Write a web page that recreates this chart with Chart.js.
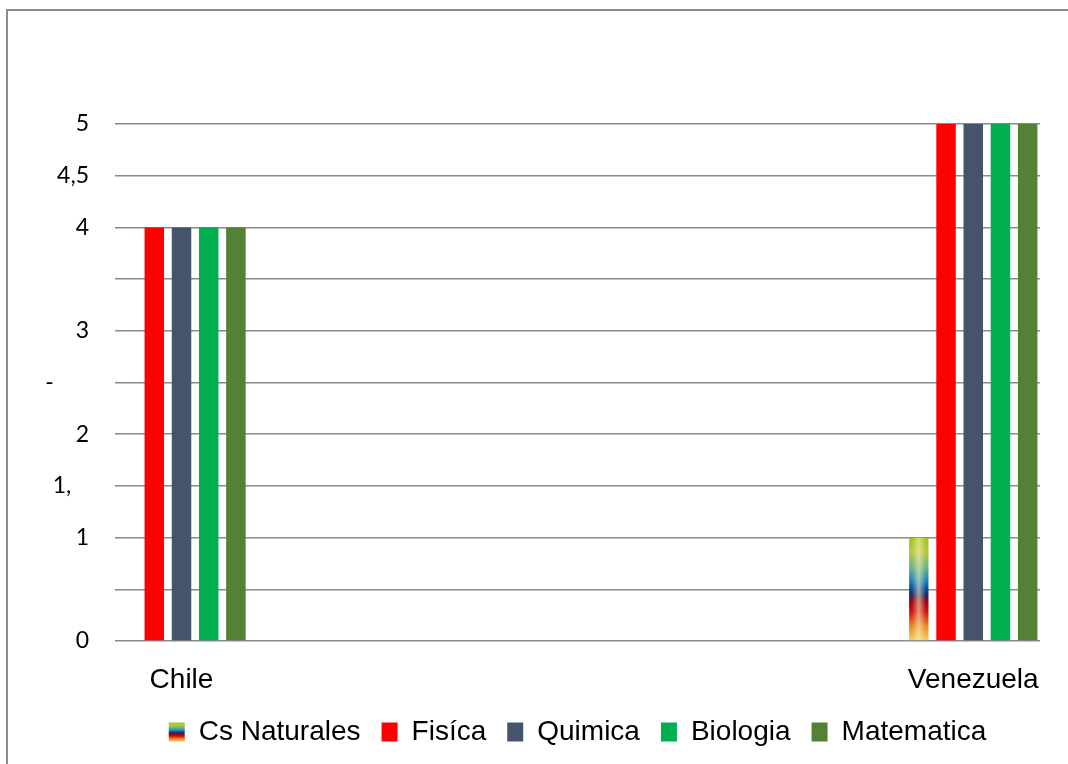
<!DOCTYPE html>
<html>
<head>
<meta charset="utf-8">
<script src="https://cdn.jsdelivr.net/npm/chart.js@4/dist/chart.umd.min.js"></script>
<style>
  html, body { margin: 0; padding: 0; background: #fff; overflow: hidden; }
  body { width: 1068px; height: 764px; position: relative; }
  #frame { position: absolute; left: 6px; top: 9px; width: 1100px; height: 800px;
           border-left: 2px solid #8c8c8c; border-top: 2px solid #8c8c8c; }
  #wrap { position: absolute; left: 0; top: 0; width: 1068px; height: 756px; }
</style>
</head>
<body>
<div id="frame"></div>
<div id="wrap"><canvas id="chart"></canvas></div>
<script>
const categories = ['Chile', 'Venezuela'];
const seriesNames = ['Cs Naturales', 'Fisíca', 'Quimica', 'Biologia', 'Matematica'];
const csNaturales = [0, 1];
const fisica = [4, 5];
const quimica = [4, 5];
const biologia = [4, 5];
const matematica = [4, 5];
const yTickLabels = ['0', '', '1', '1,   ', '2', '-      ', '3', '', '4', '4,5', '5'];

const CAT_PCT = 0.1718;
const BAR_PCT = 0.717;

// colour stops of the multicolour fill, top of bar first
const rainbowStops = [
  [0.00, '#a4c01c'], [0.14, '#b6ca3c'], [0.30, '#62b08c'], [0.42, '#1a86c0'],
  [0.50, '#0a4898'], [0.56, '#1c2a68'], [0.62, '#a0000e'], [0.72, '#d01010'],
  [0.86, '#e88a22'], [1.00, '#f2d060']
];

function rainbowPattern(ctx) {
  const chart = ctx.chart;
  const xs = chart.scales.x, ys = chart.scales.y;
  if (ctx.type !== 'data' || !xs || !ys) return '#1a86c0';
  const v = ctx.raw && ctx.raw.y;
  if (!v) return '#1a86c0';
  const step = Math.abs(xs.getPixelForValue(1) - xs.getPixelForValue(0));
  const size = step * CAT_PCT;
  const chunk = size / chart.data.datasets.length;
  const w = Math.max(1, Math.round(chunk * BAR_PCT));
  const center = xs.getPixelForValue(ctx.dataIndex) - size / 2 + chunk * (ctx.datasetIndex + 0.5);
  const top = ys.getPixelForValue(v), bottom = ys.getPixelForValue(0);
  const h = Math.max(1, Math.round(bottom - top));
  const c = document.createElement('canvas');
  c.width = w; c.height = h;
  const g = c.getContext('2d');
  const vg = g.createLinearGradient(0, 0, 0, h);
  rainbowStops.forEach(([o, col]) => vg.addColorStop(o, col));
  g.fillStyle = vg;
  g.fillRect(0, 0, w, h);
  const hg = g.createLinearGradient(0, 0, w, 0);
  hg.addColorStop(0.15, 'rgba(255,240,190,0)');
  hg.addColorStop(0.5, 'rgba(255,240,190,0.6)');
  hg.addColorStop(0.85, 'rgba(255,240,190,0)');
  g.fillStyle = hg;
  g.fillRect(0, 0, w, h);
  const p = chart.ctx.createPattern(c, 'no-repeat');
  p.setTransform(new DOMMatrix().translate(center - w / 2, top));
  return p;
}

function legendRainbow(chart) {
  const lg = chart.legend;
  if (!lg || lg.top === undefined) return '#1a86c0';
  const opts = lg.options.labels;
  const fs = opts.font.size;
  const top = lg.top + opts.padding + Math.max((fs - opts.boxHeight) / 2, 0);
  const gr = chart.ctx.createLinearGradient(0, top, 0, top + opts.boxHeight);
  rainbowStops.forEach(([o, col]) => gr.addColorStop(o, col));
  return gr;
}

const seriesValues = [csNaturales, fisica, quimica, biologia, matematica];
const seriesColors = [rainbowPattern, '#ff0000', '#44546a', '#00b050', '#548235'];

new Chart(document.getElementById('chart'), {
  type: 'bar',
  data: {
    datasets: seriesNames.map((name, i) => ({
      label: name,
      data: seriesValues[i].map((v, j) => ({ x: j, y: v })),
      backgroundColor: seriesColors[i],
      borderWidth: 0,
      categoryPercentage: CAT_PCT,
      barPercentage: BAR_PCT
    }))
  },
  options: {
    responsive: true,
    maintainAspectRatio: false,
    animation: false,
    layout: { padding: { left: 0, right: 28, top: 124, bottom: 0 } },
    plugins: {
      tooltip: { enabled: false },
      legend: {
        position: 'bottom',
        fullSize: false,
        labels: {
          font: { family: 'Liberation Sans', size: 28 },
          color: '#000',
          boxWidth: 16,
          boxHeight: 19,
          padding: 21,
          generateLabels(chart) {
            const items = Chart.defaults.plugins.legend.labels.generateLabels(chart);
            items[0].fillStyle = legendRainbow(chart);
            items.forEach((it) => { it.lineWidth = 0; it.strokeStyle = 'rgba(0,0,0,0)'; });
            return items;
          }
        }
      }
    },
    scales: {
      x: {
        type: 'linear',
        offset: false,
        min: -0.084,
        max: 1.0843,
        afterBuildTicks: (s) => { s.ticks = categories.map((c, i) => ({ value: i })); },
        afterFit: (s) => { s.height = 56; },
        grid: { display: false },
        border: { display: false },
        ticks: {
          callback: (v) => categories[v],
          autoSkip: false,
          maxRotation: 0,
          padding: 14,
          color: '#000',
          font: { family: 'Liberation Sans', size: 28 }
        }
      },
      y: {
        min: 0,
        max: 5,
        afterFit: (s) => { s.width = 115; },
        grid: { color: '#8a8a8a', lineWidth: 1.5, drawTicks: false },
        border: { display: false },
        ticks: {
          stepSize: 0.5,
          padding: 26,
          color: '#000',
          font: { family: 'Lato', size: 23 },
          callback: (v) => yTickLabels[Math.round(v * 2)]
        }
      }
    }
  }
});
</script>
</body>
</html>
